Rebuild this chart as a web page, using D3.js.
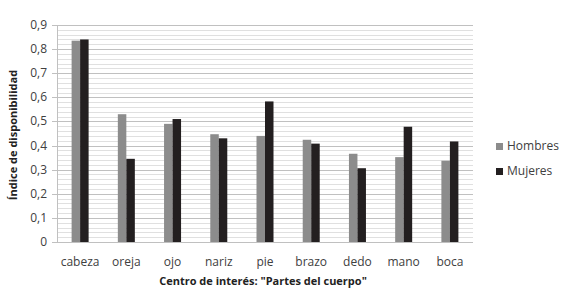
<!DOCTYPE html>
<html>
<head>
<meta charset="utf-8">
<script src="https://cdn.jsdelivr.net/npm/d3@7"></script>
<style>
  body { margin: 0; background: #fff; }
  svg text { font-family: "Open Sans", sans-serif; fill: #404040; }
</style>
</head>
<body>
<svg></svg>
<script>
const categories = ["cabeza", "oreja", "ojo", "nariz", "pie", "brazo", "dedo", "mano", "boca"];
const hombres = [0.835, 0.53, 0.49, 0.447, 0.44, 0.424, 0.366, 0.352, 0.337];
const mujeres = [0.84, 0.345, 0.51, 0.43, 0.583, 0.408, 0.306, 0.478, 0.417];
const seriesNames = ["Hombres", "Mujeres"];
const seriesColors = ["#8c8c8c", "#231f20"];
const yTicks = [0, 0.1, 0.2, 0.3, 0.4, 0.5, 0.6, 0.7, 0.8, 0.9];

var margin = { top: 25, right: 93, bottom: 55, left: 57 },
  width = 566 - margin.left - margin.right,
  height = 297 - margin.top - margin.bottom;

var svg = d3.select("svg").attr("width", 566).attr("height", 297);
var g = svg.append("g").attr("transform", "translate(" + margin.left + "," + margin.top + ")");

var x = d3.scaleBand().domain(categories).range([0, width]);
var y = d3.scaleLinear().domain([0, 0.9]).range([height, 0]);

// minor gridlines every 0.02
var minor = d3.range(0, 46).map((i) => i * 0.02).filter((v) => v <= 0.9);
g.selectAll(".minor")
  .data(minor)
  .enter()
  .append("line")
  .attr("x1", 0)
  .attr("x2", width)
  .attr("y1", (d) => Math.round(y(d)) + 0.5)
  .attr("y2", (d) => Math.round(y(d)) + 0.5)
  .attr("stroke", "#e0e0e0")
  .attr("stroke-width", 1);

// major gridlines
g.selectAll(".major")
  .data(yTicks)
  .enter()
  .append("line")
  .attr("x1", -5)
  .attr("x2", width)
  .attr("y1", (d) => Math.round(y(d)) + 0.5)
  .attr("y2", (d) => Math.round(y(d)) + 0.5)
  .attr("stroke", "#c0c0c0")
  .attr("stroke-width", 1);

// y axis line
g.append("line")
  .attr("x1", 0.5).attr("x2", 0.5)
  .attr("y1", y(0.9)).attr("y2", y(0))
  .attr("stroke", "#c0c0c0");

// bars
var bw = 8.5;
[hombres, mujeres].forEach((vals, s) => {
  g.selectAll(".bar" + s)
    .data(vals)
    .enter()
    .append("rect")
    .attr("x", (d, i) => x(categories[i]) + x.bandwidth() / 2 - bw + s * bw)
    .attr("y", (d) => y(d))
    .attr("width", bw)
    .attr("height", (d) => y(0) - y(d))
    .attr("fill", seriesColors[s]);
});

// y tick labels
g.selectAll(".ylab")
  .data(yTicks)
  .enter()
  .append("text")
  .attr("x", -10)
  .attr("y", (d) => y(d) + 4)
  .attr("text-anchor", "end")
  .style("font-size", "12px")
  .text((d) => d === 0 ? "0" : d3.format(".1f")(d).replace(".", ","));

// category labels
g.selectAll(".xlab")
  .data(categories)
  .enter()
  .append("text")
  .attr("x", (d) => x(d) + x.bandwidth() / 2)
  .attr("y", height + 24)
  .attr("text-anchor", "middle")
  .style("font-size", "12px")
  .text((d) => d);

// axis titles
svg.append("text")
  .attr("x", 263)
  .attr("y", 285)
  .attr("text-anchor", "middle")
  .style("font-size", "11px")
  .style("font-weight", "bold")
  .style("fill", "#222")
  .text('Centro de interés: "Partes del cuerpo"');

svg.append("text")
  .attr("transform", "translate(17,135) rotate(-90)")
  .attr("text-anchor", "middle")
  .style("font-size", "11px")
  .style("font-weight", "bold")
  .style("fill", "#222")
  .text("Índice de disponibilidad");

// legend
var legend = svg.selectAll(".legend")
  .data(seriesNames)
  .enter()
  .append("g")
  .attr("transform", (d, i) => "translate(496," + (150 + i * 25) + ")");
legend.append("rect")
  .attr("x", 0).attr("y", -7)
  .attr("width", 7).attr("height", 7)
  .attr("fill", (d, i) => seriesColors[i]);
legend.append("text")
  .attr("x", 11).attr("y", 0)
  .style("font-size", "12px")
  .text((d) => d);
</script>
</body>
</html>
